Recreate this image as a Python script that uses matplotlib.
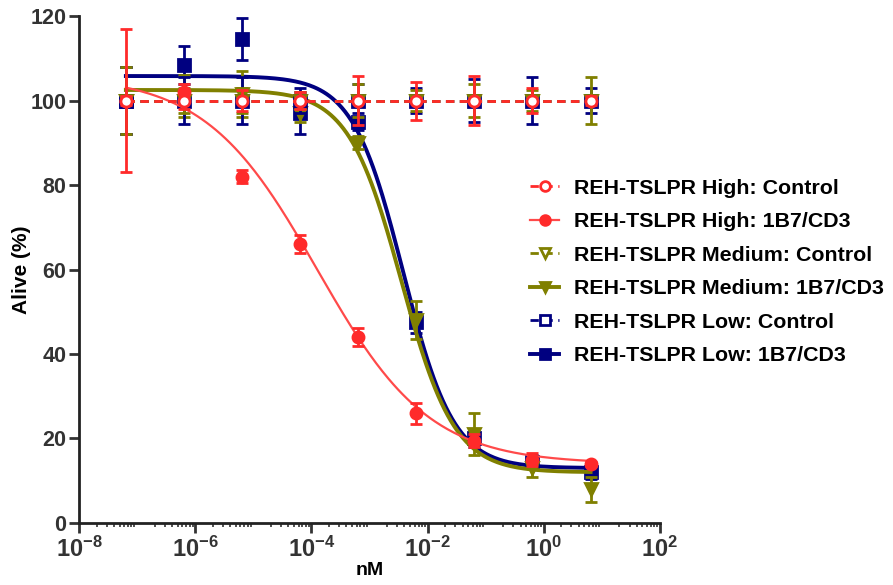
import numpy as np
import matplotlib
matplotlib.use("Agg")
import matplotlib.pyplot as plt
from matplotlib.ticker import LogLocator, FixedLocator, NullFormatter

plt.rcParams['font.family'] = ['Liberation Sans', 'DejaVu Sans']
plt.rcParams['font.weight'] = 'bold'
plt.rcParams['mathtext.fontset'] = 'custom'
plt.rcParams['mathtext.bf'] = 'Liberation Sans:bold'
plt.rcParams['mathtext.rm'] = 'Liberation Sans:bold'

# concentrations (nM)
conc = [6.4e-8, 6.4e-7, 6.4e-6, 6.4e-5, 6.4e-4, 6.4e-3, 6.4e-2, 0.64, 6.4]

# measured values (% alive) and error bars
high_ctrl = [100, 100, 100, 100, 100, 100, 100, 100, 100]
high_ctrl_err = [1.0, 2.0, 2.5, 2.0, 5.8, 4.5, 5.8, 3.0, 1.0]
high_1b7 = [100, 102, 82, 66, 44, 26, 19.5, 15, 14]
high_1b7_err = [17, 2, 1.5, 2.2, 2.2, 2.5, 1.5, 1.5, 0.5]

med_ctrl = [100, 100, 100, 100, 100, 100, 100, 100, 100]
med_ctrl_err = [8, 3, 3, 2, 4, 2.5, 4, 2.5, 5.5]
med_1b7 = [100, 101, 101.5, 97, 90, 48, 21, 13, 8]
med_1b7_err = [8, 5, 5.5, 2, 1.5, 4.5, 5, 2, 3]

low_ctrl = [100, 100, 100, 100, 100, 100, 100, 100, 100]
low_ctrl_err = [8, 5.5, 5.5, 3, 4, 3, 5, 5.5, 3]
low_1b7 = [100, 108.5, 114.5, 97, 95, 47.5, 20, 14.5, 12]
low_1b7_err = [8, 4.5, 5, 5, 2, 2.5, 2, 1.5, 1.5]

# fitted 4PL parameters: top, bottom, logEC50, hill
high_fit = (106, 14, -3.9, 0.45)
med_fit = (102.5, 12, -2.45, 0.95)
low_fit = (105.8, 13, -2.42, 1.0)
ctrl_fit = (100, 100, 0, 1)

labels = ["REH-TSLPR High: Control", "REH-TSLPR High: 1B7/CD3",
          "REH-TSLPR Medium: Control", "REH-TSLPR Medium: 1B7/CD3",
          "REH-TSLPR Low: Control", "REH-TSLPR Low: 1B7/CD3"]

RED = "#ff2a2a"
RED_LINE = "#ff4a4a"
OLIVE = "#808000"
NAVY = "#000080"


def fourpl(x, top, bottom, logec50, hill):
    return bottom + (top - bottom) / (1 + 10 ** ((np.log10(x) - logec50) * hill))


fig = plt.figure(figsize=(8.93, 5.85), dpi=100)
ax = fig.add_axes([0.0885, 0.106, 0.6505, 0.8666])

xs = np.logspace(np.log10(conc[0]), np.log10(conc[-1]), 300)


def serie(y, err, fit, color, lcolor, marker, filled, dashed, label, z):
    ls = (0, (3, 2)) if dashed else '-'
    lw = 2.0 if dashed else (1.6 if color == RED else 2.8)
    ax.plot(xs, fourpl(xs, *fit), color=lcolor, lw=lw, ls=ls, zorder=z)
    ax.errorbar(conc, y, yerr=err, fmt='none', ecolor=color, elinewidth=2,
                capsize=4, capthick=2, zorder=z + 0.5)
    ax.plot(conc, y, ls='none', marker=marker, ms=8,
            mfc=color if filled else 'white', mec=color, mew=2, zorder=z + 0.6)
    # legend proxy
    ax.plot([], [], color=lcolor, lw=lw, ls=ls, marker=marker, ms=7,
            mfc=color if filled else 'white', mec=color, mew=2, label=label)


serie(low_1b7, low_1b7_err, low_fit, NAVY, NAVY, 's', True, False, labels[5], 3)
serie(med_1b7, med_1b7_err, med_fit, OLIVE, OLIVE, 'v', True, False, labels[3], 4)
serie(low_ctrl, low_ctrl_err, ctrl_fit, NAVY, NAVY, 's', False, True, labels[4], 5)
serie(med_ctrl, med_ctrl_err, ctrl_fit, OLIVE, OLIVE, 'v', False, True, labels[2], 6)
serie(high_1b7, high_1b7_err, high_fit, RED, RED_LINE, 'o', True, False, labels[1], 7)
serie(high_ctrl, high_ctrl_err, ctrl_fit, RED, RED, 'o', False, True, labels[0], 8)

ax.set_xscale('log')
ax.set_xlim(1e-8, 1e2)
ax.set_ylim(0, 120)

ax.spines['top'].set_visible(False)
ax.spines['right'].set_visible(False)
for s in ('left', 'bottom'):
    ax.spines[s].set_linewidth(2)
    ax.spines[s].set_color('#222222')

xticks = [1e-8, 1e-6, 1e-4, 1e-2, 1e0, 1e2]
xticklabels = [r'$\mathbf{10^{-8}}$', r'$\mathbf{10^{-6}}$', r'$\mathbf{10^{-4}}$',
               r'$\mathbf{10^{-2}}$', r'$\mathbf{10^{0}}$', r'$\mathbf{10^{2}}$']
ax.xaxis.set_major_locator(FixedLocator(xticks))
ax.set_xticklabels(xticklabels)
ax.xaxis.set_minor_locator(LogLocator(base=10, subs=np.arange(2, 10), numticks=50))
ax.xaxis.set_minor_formatter(NullFormatter())

yticks = [0, 20, 40, 60, 80, 100, 120]
ax.set_yticks(yticks)
ax.set_yticklabels([str(v) for v in yticks])

ax.tick_params(axis='both', which='major', direction='out', length=7, width=2,
               colors='#333333', labelcolor='#333333')
ax.tick_params(axis='y', which='major', labelsize=15.5, pad=2)
ax.tick_params(axis='x', which='major', labelsize=17, pad=3)
ax.tick_params(axis='x', which='minor', direction='out', length=3, width=1.2, colors='#333333')

ax.set_xlabel('nM', fontsize=14, fontweight='bold', labelpad=0)
ax.set_ylabel('Alive (%)', fontsize=15, fontweight='bold', labelpad=0)

handles, labs = ax.get_legend_handles_labels()
order = [labs.index(l) for l in labels]
ax.legend([handles[i] for i in order], labels, loc='center left',
          bbox_to_anchor=(0.593, 0.535), bbox_transform=fig.transFigure,
          frameon=False, fontsize=15.4, handlelength=1.4, labelspacing=0.68,
          handletextpad=0.7, borderaxespad=0, borderpad=0)

fig.savefig('out.png', dpi=100)
